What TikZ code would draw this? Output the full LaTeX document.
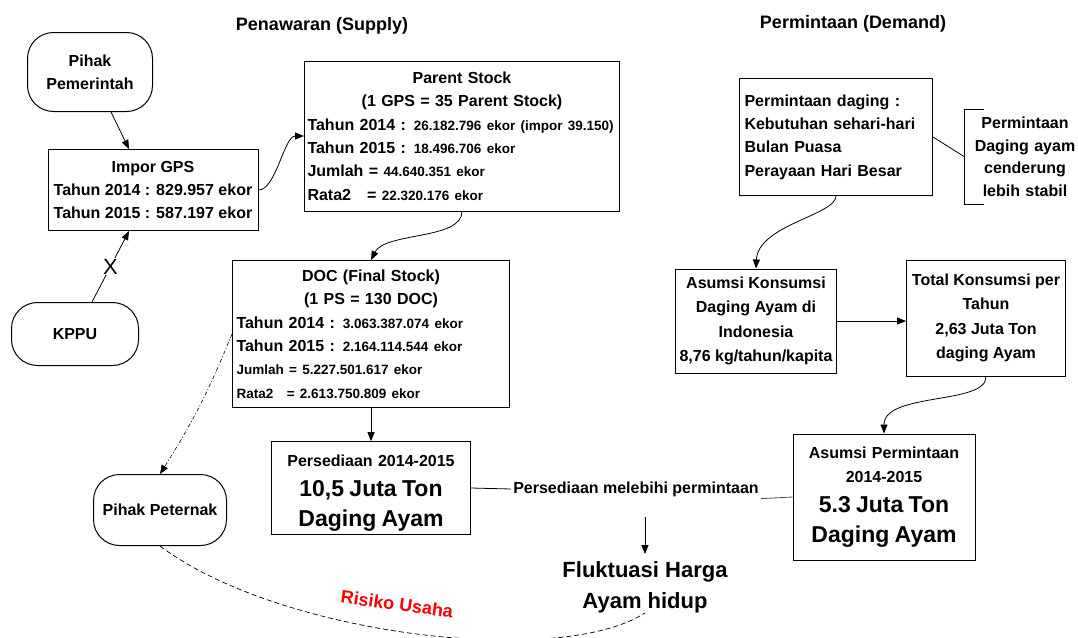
\documentclass[tikz,border=0pt]{standalone}
\usepackage{fontspec}
\setmainfont{Liberation Sans}
\usetikzlibrary{arrows.meta,positioning}
\definecolor{ink}{HTML}{000000}
\definecolor{risiko}{HTML}{FF0000}
\definecolor{garis}{HTML}{4D4D4D}
\newcommand\angka[1]{{\fontsize{13.5}{23}\selectfont #1}}
\newcommand\besar{\fontsize{23}{30}\selectfont}

\begin{document}
\begin{tikzpicture}[x=1pt,y=-1pt,
  font=\bfseries\fontsize{16}{23.4}\selectfont,
  kotak/.style={draw=ink,line width=1pt,align=center,inner xsep=4pt},
  bulat/.style={draw=ink,line width=1pt,rounded corners=26pt,align=center},
  panah/.style={-{Triangle[length=9pt,width=7pt]},line width=0.8pt,draw=ink},
  judul/.style={font=\bfseries\fontsize{18}{22}\selectfont}]
  \useasboundingbox (0,0) rectangle (1078,637);

  % judul kedua sisi
  \node[judul] (supply) at (322,26) {Penawaran (Supply)};
  \node[judul] (demand) at (853,24) {Permintaan (Demand)};

  % sisi penawaran
  \node[bulat,minimum width=125pt,minimum height=79pt] (pemerintah) at (90,72) {Pihak\\Pemerintah};
  \node[kotak,minimum width=210pt,minimum height=81pt] (impor) at (153,190)
    {Impor GPS\\Tahun 2014 : 829.957 ekor\\Tahun 2015 : 587.197 ekor};
  \node[kotak,text width=309pt,inner xsep=3pt,minimum height=150pt,align=left] (parent) at (462,136)
    {{\centering Parent Stock\\(1 GPS = 35 Parent Stock)\par}
     \mbox{Tahun 2014 : \angka{26.182.796 ekor (impor 39.150)}}\\
     Tahun 2015 : \angka{18.496.706 ekor}\\
     Jumlah = \angka{44.640.351 ekor}\\
     Rata2\quad= \angka{22.320.176 ekor}};
  \node[kotak,text width=269pt,minimum height=147pt,align=left] (doc) at (371,334)
    {{\centering DOC (Final Stock)\\(1 PS = 130 DOC)\par}
     Tahun 2014 : \angka{3.063.387.074 ekor}\\
     Tahun 2015 : \angka{2.164.114.544 ekor}\\
     \angka{Jumlah = 5.227.501.617 ekor}\\
     \angka{Rata2\quad= 2.613.750.809 ekor}};
  \node[bulat,minimum width=127pt,minimum height=63pt] (kppu) at (75,334) {KPPU};
  \node[bulat,minimum width=133pt,minimum height=71pt] (peternak) at (160,510) {Pihak Peternak};
  \node[kotak,text width=191pt,minimum height=90pt] (persediaan) at (371,488)
    {{\rule{0pt}{21pt}Persediaan 2014-2015\par}{\besar 10,5 Juta Ton\\Daging Ayam\par}};
  \node[inner sep=2pt] (melebihi) at (636,489) {Persediaan melebihi permintaan};
  \node[font=\bfseries\fontsize{22}{31}\selectfont,align=center,inner ysep=7pt] (fluktuasi) at (645,587)
    {Fluktuasi Harga\\Ayam hidup};
  \node[text=risiko,rotate=-8,font=\bfseries\fontsize{18}{22}\selectfont] (risiko) at (397,604) {Risiko Usaha};
  \coordinate (turun) at (645,517);

  % sisi permintaan
  \node[kotak,text width=183pt,inner xsep=5pt,minimum height=117pt,align=left] (minta) at (836,137)
    {Permintaan daging :\\Kebutuhan sehari-hari\\Bulan Puasa\\Perayaan Hari Besar};
  \node[align=center,text width=110pt,inner xsep=5pt,inner ysep=7.5pt,
        font=\bfseries\fontsize{16}{22.5}\selectfont] (stabil) at (1025,157)
    {Permintaan\\Daging ayam\\cenderung\\lebih stabil};
  \node[kotak,minimum width=160pt,minimum height=104pt,font=\bfseries\fontsize{16}{24.3}\selectfont] (konsumsi) at (756,321)
    {Asumsi Konsumsi\\Daging Ayam di\\Indonesia\\8,76 kg/tahun/kapita};
  \node[kotak,minimum width=159pt,minimum height=116pt,font=\bfseries\fontsize{16}{24.3}\selectfont] (total) at (986,318)
    {Total Konsumsi per\\Tahun\\2,63 Juta Ton\\daging Ayam};
  \node[kotak,text width=174pt,minimum height=126pt] (asumsiminta) at (884,497)
    {{Asumsi Permintaan\\2014-2015\par}{\besar 5.3 Juta Ton\\Daging Ayam\par}};

  % penghubung
  \draw[panah] ([xshift=21pt]pemerintah.south) -- ([xshift=-24pt]impor.north);
  \draw[panah] ([xshift=17pt]kppu.north) -- node[fill=white,inner sep=1pt,
    font=\fontsize{22}{22}\selectfont] (silang) {X} ([xshift=-24pt]impor.south);
  \draw[panah] (impor.east) .. controls (276,190) and (284,136) .. (parent.west);
  \draw[panah] (parent.south) .. controls (462,240) and (385,232) .. (doc.north);
  \draw[panah] (doc.south) -- (persediaan.north);
  \draw[panah,line width=0.6pt,dash pattern=on 4pt off 2pt on 1pt off 2pt]
    (doc.west) to[bend left=5] (peternak.north);
  \draw[line width=0.8pt] (persediaan.east) -- (melebihi.west);
  \draw[line width=0.8pt,draw=garis] (melebihi.south east) -- (asumsiminta.west);
  \draw[panah] (turun) -- (fluktuasi.north);
  \draw[line width=0.7pt,dash pattern=on 5pt off 3pt]
    (peternak.south) .. controls (280,636) and (560,668) .. ([yshift=7pt]fluktuasi.south);

  \draw[line width=0.8pt] (minta.east) -- (stabil.west);
  \draw[line width=0.8pt] ([xshift=19pt]stabil.north west) -- (stabil.north west)
    -- (stabil.south west) -- ++(19,0);
  \draw[panah] (minta.south) .. controls (836,215) and (758,225) .. (konsumsi.north);
  \draw[panah] (konsumsi.east) -- (konsumsi.east -| total.west);
  \draw[panah] (total.south) .. controls (987,405) and (884,392) .. (asumsiminta.north);
\end{tikzpicture}
\end{document}
